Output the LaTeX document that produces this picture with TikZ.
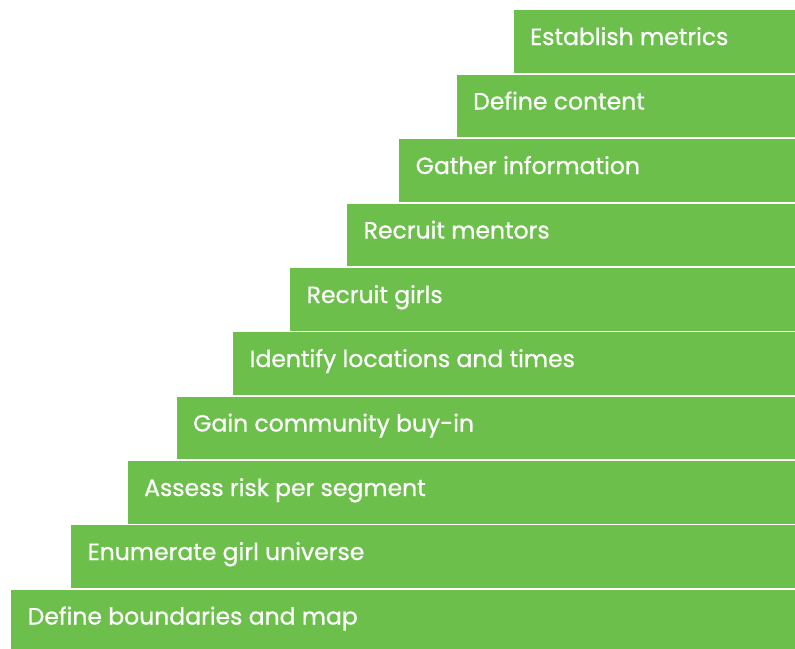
\documentclass[tikz,border=0pt]{standalone}
\usepackage{fontspec}
\setmainfont[FakeBold=0.8]{Poppins}
\usetikzlibrary{positioning,calc}
\definecolor{stepgreen}{HTML}{6CBF4B}
\begin{document}
\begin{tikzpicture}[x=1pt, y=-1pt]
\tikzstyle{bar} = [rectangle, fill=stepgreen, inner sep=0pt, anchor=north west, minimum height=62.5pt]
\tikzstyle{lbl} = [anchor=base west, inner sep=0pt, text=white, font=\fontsize{23.5}{28}\selectfont]
\useasboundingbox (0,0) rectangle (795,648);
\node[bar, minimum width=282pt] at (513.5,10) (B1){};
\node[bar, minimum width=339pt] at (456.5,74.5) (B2){};
\node[bar, minimum width=396pt] at (399,139) (B3){};
\node[bar, minimum width=448pt] at (347,203.5) (B4){};
\node[bar, minimum width=505pt] at (290,268) (B5){};
\node[bar, minimum width=562pt] at (233,332) (B6){};
\node[bar, minimum width=619pt] at (176.5,396.5) (B7){};
\node[bar, minimum width=668pt] at (127.5,461) (B8){};
\node[bar, minimum width=724pt] at (71,525) (B9){};
\node[bar, minimum width=784pt] at (11,589.5) (B10){};
%% labels
\node[lbl] at ($(B1.north west)+(16.5,35)$) (T1){Establish metrics};
\node[lbl] at ($(B2.north west)+(16.5,35)$) (T2){Define content};
\node[lbl] at ($(B3.north west)+(16.5,35)$) (T3){Gather information};
\node[lbl] at ($(B4.north west)+(16.5,35)$) (T4){Recruit mentors};
\node[lbl] at ($(B5.north west)+(16.5,35)$) (T5){Recruit girls};
\node[lbl] at ($(B6.north west)+(16.5,35)$) (T6){Identify locations and times};
\node[lbl] at ($(B7.north west)+(16.5,35)$) (T7){Gain community buy-in};
\node[lbl] at ($(B8.north west)+(16.5,35)$) (T8){Assess risk per segment};
\node[lbl] at ($(B9.north west)+(16.5,35)$) (T9){Enumerate girl universe};
\node[lbl] at ($(B10.north west)+(16.5,35)$) (T10){Define boundaries and map};
\end{tikzpicture}
\end{document}
